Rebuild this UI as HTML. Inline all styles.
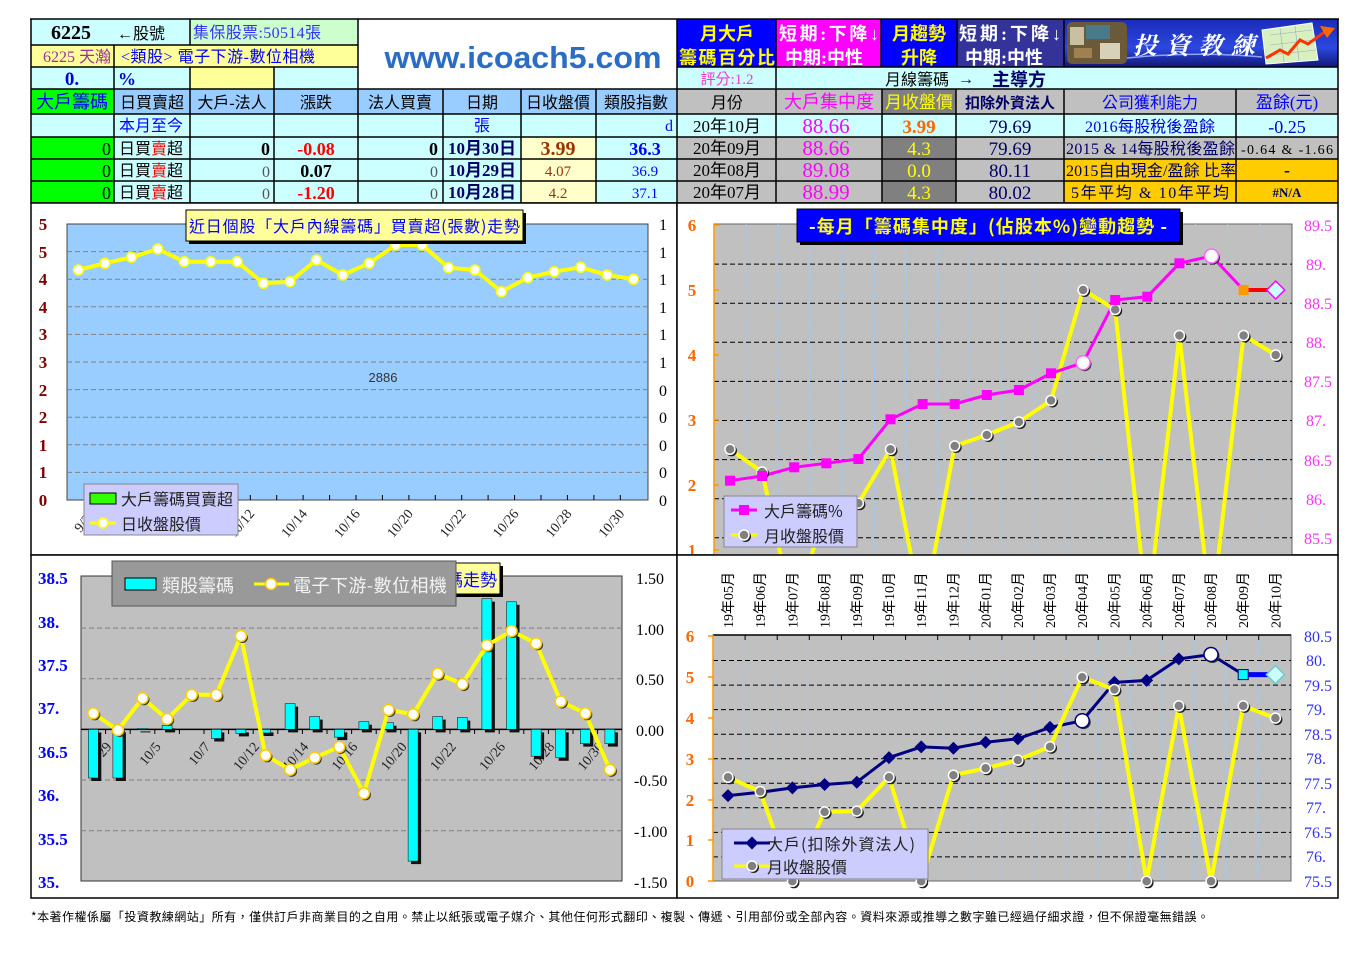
<!DOCTYPE html>
<html><head><meta charset="utf-8">
<style>
html,body{margin:0;padding:0;background:#fff;width:1366px;height:967px;overflow:hidden;}
svg{display:block;}
text{font-family:"Liberation Serif","Noto Sans CJK TC",serif;}
.ss{font-family:"Liberation Sans","Noto Sans CJK TC",sans-serif;}
.cj{font-family:"Noto Sans CJK TC",sans-serif;}
</style></head><body>
<svg width="1366" height="967" viewBox="0 0 1366 967" xmlns="http://www.w3.org/2000/svg">
<defs>
<linearGradient id="lgv" x1="0" y1="0" x2="0" y2="1"><stop offset="0" stop-color="#1a2ab8"/><stop offset="0.6" stop-color="#2c48e0"/><stop offset="1" stop-color="#101878"/></linearGradient>
<clipPath id="c2"><rect x="678" y="204" width="659" height="351"/></clipPath>
<g id="gm"><circle cx="1.5" cy="1.5" r="5.5" fill="#222"/><circle r="5" fill="#808080" stroke="#fff" stroke-width="1.5"/></g>
<g id="wm"><circle r="5" fill="#fff" stroke="#ffff00" stroke-width="1.5"/></g>
<g id="wm3"><circle cx="1.5" cy="1.5" r="5.5" fill="#333"/><circle r="5.5" fill="#fff" stroke="#ffcc00" stroke-width="1.5"/></g>
<rect id="ms" x="-5" y="-5" width="10" height="10" fill="#ff00ff"/>
<path id="nd" d="M0,-6.5 L6.5,0 L0,6.5 L-6.5,0Z" fill="#000080"/>
</defs>

<!-- ===== TOP LEFT TABLE FILLS ===== -->
<rect x="31" y="19" width="159" height="26" fill="#ccffff"/>
<rect x="190" y="19" width="168" height="26" fill="#ccffcc"/>
<rect x="31" y="45" width="327" height="22" fill="#ffff99"/>
<rect x="31" y="67" width="243" height="22" fill="#ccffff"/>
<rect x="190" y="67" width="84" height="22" fill="#ffff99"/>
<rect x="274" y="67" width="84" height="22" fill="#ccffff"/>
<rect x="358" y="19" width="319" height="70" fill="#ffffff"/>
<rect x="31" y="89" width="83" height="25" fill="#00ff00"/>
<rect x="114" y="89" width="563" height="25" fill="#99ccff"/>
<rect x="31" y="114" width="646" height="23" fill="#ccffff"/>
<rect x="31" y="137" width="83" height="66" fill="#00ff00"/>
<rect x="114" y="137" width="407" height="66" fill="#ccffff"/>
<rect x="521" y="137" width="75" height="66" fill="#ffffcc"/>
<rect x="596" y="137" width="81" height="66" fill="#ccffff"/>

<!-- ===== TOP RIGHT FILLS ===== -->
<rect x="677" y="19" width="99" height="48" fill="#0000ff"/>
<rect x="776" y="19" width="105" height="48" fill="#ff00ff"/>
<rect x="881" y="19" width="76" height="48" fill="#0000ff"/>
<rect x="957" y="19" width="107" height="48" fill="#333399"/>
<rect x="677" y="67" width="661" height="22" fill="#ccffff"/>
<rect x="677" y="89" width="661" height="25" fill="#c0c0c0"/>
<rect x="882" y="89" width="74" height="25" fill="#808080"/>
<rect x="677" y="114" width="661" height="23" fill="#ccffff"/>
<rect x="677" y="137" width="661" height="66" fill="#c0c0c0"/>
<rect x="882" y="137" width="74" height="66" fill="#808080"/>
<rect x="1064" y="159" width="274" height="44" fill="#ffcc00"/>

<!-- logo -->
<rect x="1064" y="19" width="274" height="48" fill="url(#lgv)"/>
<rect x="1067" y="22" width="60" height="42" rx="5" fill="#6b5a3a"/>
<rect x="1070" y="27" width="14" height="18" fill="#c8c0a0"/>
<rect x="1086" y="25" width="24" height="14" fill="#4a7a8a"/>
<rect x="1100" y="43" width="20" height="16" fill="#d8d0b8"/>
<rect x="1074" y="48" width="18" height="10" fill="#a08050"/>
<path d="M1127,58 Q1195,51 1262,57" stroke="#8fa0ff" stroke-width="1.5" fill="none"/>
<text x="1133" y="54" font-size="24" font-weight="bold" font-style="italic" fill="#ffffff" style="font-family:'Noto Serif CJK SC','Noto Sans CJK TC',serif" textLength="122" lengthAdjust="spacing">投資教練</text>
<polygon points="1262,30 1312,23 1318,60 1266,64" fill="#d8f0c0" stroke="#ffffff" stroke-width="1"/>
<path d="M1270,35 L1312,30 M1270,45 L1314,40 M1270,55 L1316,50 M1280,28 L1284,62 M1295,26 L1299,61" stroke="#9ab" stroke-width="0.6"/>
<polyline points="1266,58 1280,50 1288,54 1300,40 1308,44 1326,31" fill="none" stroke="#ff3300" stroke-width="3"/>
<polygon points="1320,26 1335,28 1327,38" fill="#ff6600"/>

<!-- ===== TABLE GRID LINES ===== -->
<g stroke="#000" stroke-width="1.5">
<line x1="30" y1="19" x2="1339" y2="19"/>
<line x1="31" y1="45" x2="358" y2="45"/>
<line x1="31" y1="67" x2="358" y2="67"/>
<line x1="677" y1="67" x2="1338" y2="67"/>
<line x1="31" y1="89" x2="1338" y2="89"/>
<line x1="31" y1="114" x2="1338" y2="114"/>
<line x1="31" y1="137" x2="1338" y2="137"/>
<line x1="31" y1="159" x2="1338" y2="159"/>
<line x1="31" y1="181" x2="1338" y2="181"/>
<line x1="31" y1="203" x2="1338" y2="203"/>
<line x1="31" y1="19" x2="31" y2="203"/>
<line x1="114" y1="45" x2="114" y2="203"/>
<line x1="190" y1="19" x2="190" y2="45"/>
<line x1="190" y1="67" x2="190" y2="203"/>
<line x1="274" y1="67" x2="274" y2="203"/>
<line x1="358" y1="19" x2="358" y2="203"/>
<line x1="443" y1="89" x2="443" y2="203"/>
<line x1="521" y1="89" x2="521" y2="203"/>
<line x1="596" y1="89" x2="596" y2="203"/>
<line x1="677" y1="19" x2="677" y2="203"/>
<line x1="776" y1="19" x2="776" y2="203"/>
<line x1="881" y1="19" x2="881" y2="67"/>
<line x1="882" y1="89" x2="882" y2="203"/>
<line x1="957" y1="19" x2="957" y2="67"/>
<line x1="956" y1="89" x2="956" y2="203"/>
<line x1="1064" y1="19" x2="1064" y2="67"/>
<line x1="1064" y1="89" x2="1064" y2="203"/>
<line x1="1236" y1="89" x2="1236" y2="203"/>
<line x1="1338" y1="19" x2="1338" y2="203"/>
</g>

<!-- ===== TOP LEFT TEXT ===== -->
<text x="71" y="39" font-size="20" font-weight="bold" text-anchor="middle" fill="#000">6225</text>
<text x="117" y="39" font-size="16" fill="#000">←股號</text>
<text x="193" y="38" font-size="16" fill="#3333ff" textLength="128" lengthAdjust="spacing">集保股票:50514張</text>
<text x="43" y="62" font-size="16" fill="#993399" textLength="68" lengthAdjust="spacing">6225 天瀚</text>
<text x="121" y="62" font-size="16" fill="#0000ff" textLength="194" lengthAdjust="spacing">&lt;類股&gt; 電子下游-數位相機</text>
<text x="72" y="85" font-size="19" font-weight="bold" text-anchor="middle" fill="#0000cc">0.</text>
<text x="118" y="85" font-size="18" font-weight="bold" fill="#0000cc">%</text>
<text x="523" y="68" font-size="31" font-weight="bold" text-anchor="middle" fill="#2b6cc4" style="font-family:'Liberation Sans',sans-serif" textLength="277" lengthAdjust="spacingAndGlyphs">www.icoach5.com</text>

<g font-size="16" text-anchor="middle" fill="#000">
<text x="72" y="108" font-size="18" fill="#0000ff">大戶籌碼</text>
<text x="152" y="108">日買賣超</text>
<text x="232" y="108">大戶-法人</text>
<text x="316" y="108">漲跌</text>
<text x="400" y="108">法人買賣</text>
<text x="482" y="108">日期</text>
<text x="558" y="108">日收盤價</text>
<text x="636" y="108">類股指數</text>
</g>
<text x="119" y="131" font-size="16" fill="#0000ff">本月至今</text>
<text x="482" y="131" font-size="16" fill="#0000ff" text-anchor="middle">張</text>
<text x="673" y="131" font-size="16" fill="#0000ff" text-anchor="end">d</text>

<!-- rows -->
<g font-size="18" text-anchor="end" fill="#000">
<text x="111" y="155">0</text><text x="111" y="177">0</text><text x="111" y="199">0</text>
<text x="270" y="155" font-weight="bold">0</text><text x="270" y="177" fill="#555" font-size="16">0</text><text x="270" y="199" fill="#555" font-size="16">0</text>
<text x="438" y="155" font-weight="bold">0</text><text x="438" y="177" fill="#555" font-size="16">0</text><text x="438" y="199" fill="#555" font-size="16">0</text>
</g>
<g font-size="16" fill="#000">
<text x="119" y="154">日買<tspan fill="#ff0000">賣</tspan>超</text>
<text x="119" y="176">日買<tspan fill="#ff0000">賣</tspan>超</text>
<text x="119" y="198">日買<tspan fill="#ff0000">賣</tspan>超</text>
</g>
<g text-anchor="middle" font-weight="bold" font-size="18">
<text x="316" y="155" fill="#ff0000">-0.08</text>
<text x="316" y="177" fill="#000">0.07</text>
<text x="316" y="199" fill="#ff0000">-1.20</text>
</g>
<g text-anchor="middle" font-weight="bold" font-size="17" fill="#000066">
<text x="482" y="154">10月30日</text>
<text x="482" y="176">10月29日</text>
<text x="482" y="198">10月28日</text>
</g>
<text x="558" y="155" font-size="20" font-weight="bold" fill="#993300" text-anchor="middle">3.99</text>
<text x="558" y="176" font-size="15" fill="#993300" text-anchor="middle">4.07</text>
<text x="558" y="198" font-size="15" fill="#993300" text-anchor="middle">4.2</text>
<text x="645" y="155" font-size="18" font-weight="bold" fill="#0000ff" text-anchor="middle">36.3</text>
<text x="645" y="176" font-size="15" fill="#0000ff" text-anchor="middle">36.9</text>
<text x="645" y="198" font-size="15" fill="#0000ff" text-anchor="middle">37.1</text>

<!-- ===== TOP RIGHT TEXT ===== -->
<g font-size="18" font-weight="bold" text-anchor="middle">
<text x="727" y="40" fill="#ffff00">月大戶</text>
<text x="727" y="64" fill="#ffff00" textLength="96" lengthAdjust="spacing">籌碼百分比</text>
<text x="829" y="40" fill="#fff" textLength="100" lengthAdjust="spacing">短期:下降↓</text>
<text x="824" y="64" fill="#fff">中期:中性</text>
<text x="919" y="40" fill="#ffff00">月趨勢</text>
<text x="919" y="64" fill="#ffff00">升降</text>
<text x="1010" y="40" fill="#fff" textLength="102" lengthAdjust="spacing">短期:下降↓</text>
<text x="1004" y="64" fill="#fff">中期:中性</text>
</g>
<text x="727" y="84" font-size="15" fill="#ff33cc" text-anchor="middle">評分:1.2</text>
<text x="885" y="85" font-size="16" fill="#000">月線籌碼</text>
<text x="958" y="84" font-size="16" font-weight="bold" fill="#000066">→</text>
<text x="992" y="86" font-size="18" font-weight="bold" fill="#000066">主導方</text>

<g text-anchor="middle" font-size="16">
<text x="727" y="108" fill="#000">月份</text>
<text x="829" y="108" fill="#ff00ff" font-size="18">大戶集中度</text>
<text x="919" y="108" fill="#ffff00" font-size="17">月收盤價</text>
<text x="1010" y="108" fill="#000066" font-size="15" font-weight="bold">扣除外資法人</text>
<text x="1150" y="108" fill="#0000ff">公司獲利能力</text>
<text x="1287" y="108" fill="#0000ff" font-size="17">盈餘(元)</text>
</g>
<g text-anchor="middle">
<text x="727" y="132" font-size="17" fill="#000">20年10月</text>
<text x="727" y="154" font-size="17" fill="#000">20年09月</text>
<text x="727" y="176" font-size="17" fill="#000">20年08月</text>
<text x="727" y="198" font-size="17" fill="#000">20年07月</text>
<g font-size="21" fill="#ff00ff">
<text x="826" y="133">88.66</text><text x="826" y="155">88.66</text><text x="826" y="177">89.08</text><text x="826" y="199">88.99</text>
</g>
<text x="919" y="133" font-size="19" font-weight="bold" fill="#ff6600">3.99</text>
<g font-size="19" fill="#ffff00">
<text x="919" y="155">4.3</text><text x="919" y="177">0.0</text><text x="919" y="199">4.3</text>
</g>
<g font-size="19" fill="#000066">
<text x="1010" y="133">79.69</text><text x="1010" y="155">79.69</text><text x="1010" y="177">80.11</text><text x="1010" y="199">80.02</text>
</g>
<text x="1150" y="132" font-size="16" fill="#0000cc" textLength="130" lengthAdjust="spacing">2016每股稅後盈餘</text>
<text x="1287" y="133" font-size="18" fill="#0000cc">-0.25</text>
<text x="1287" y="154" font-size="14" fill="#000" textLength="92" lengthAdjust="spacing">-0.64 &amp; -1.66</text>
<text x="1287" y="176" font-size="18" font-weight="bold" fill="#000066">-</text>
<text x="1287" y="197" font-size="13" font-weight="bold" fill="#000066">#N/A</text>
</g>
<text x="1066" y="154" font-size="16" fill="#000066" textLength="169" lengthAdjust="spacing">2015 &amp; 14每股稅後盈餘</text>
<text x="1066" y="176" font-size="16" fill="#000066" textLength="170" lengthAdjust="spacing">2015自由現金/盈餘 比率</text>
<text x="1071" y="198" font-size="16" fill="#000066" textLength="158" lengthAdjust="spacing">5年平均 &amp; 10年平均</text>

<!-- ===== CHART 1 ===== -->
<rect x="31" y="203" width="646" height="352" fill="#fff" stroke="#000" stroke-width="1.5"/>
<rect x="67" y="224" width="581" height="276" fill="#99ccff" stroke="#444" stroke-width="1"/>
<g stroke="#808080" stroke-width="1" stroke-dasharray="5,3">
<line x1="67" y1="251.6" x2="648" y2="251.6"/><line x1="67" y1="279.2" x2="648" y2="279.2"/>
<line x1="67" y1="306.8" x2="648" y2="306.8"/><line x1="67" y1="334.4" x2="648" y2="334.4"/>
<line x1="67" y1="362" x2="648" y2="362"/><line x1="67" y1="389.6" x2="648" y2="389.6"/>
<line x1="67" y1="417.2" x2="648" y2="417.2"/><line x1="67" y1="444.8" x2="648" y2="444.8"/>
<line x1="67" y1="472.4" x2="648" y2="472.4"/>
</g>
<g stroke="#000" stroke-width="1">
<line x1="91.7" y1="495" x2="91.7" y2="500"/><line x1="118.1" y1="495" x2="118.1" y2="500"/><line x1="144.6" y1="495" x2="144.6" y2="500"/><line x1="171" y1="495" x2="171" y2="500"/><line x1="197.4" y1="495" x2="197.4" y2="500"/><line x1="223.9" y1="495" x2="223.9" y2="500"/><line x1="250.3" y1="495" x2="250.3" y2="500"/><line x1="276.7" y1="495" x2="276.7" y2="500"/><line x1="303.1" y1="495" x2="303.1" y2="500"/><line x1="329.6" y1="495" x2="329.6" y2="500"/><line x1="356" y1="495" x2="356" y2="500"/><line x1="382.4" y1="495" x2="382.4" y2="500"/><line x1="408.9" y1="495" x2="408.9" y2="500"/><line x1="435.3" y1="495" x2="435.3" y2="500"/><line x1="461.7" y1="495" x2="461.7" y2="500"/><line x1="488.1" y1="495" x2="488.1" y2="500"/><line x1="514.6" y1="495" x2="514.6" y2="500"/><line x1="541" y1="495" x2="541" y2="500"/><line x1="567.4" y1="495" x2="567.4" y2="500"/><line x1="593.9" y1="495" x2="593.9" y2="500"/><line x1="620.3" y1="495" x2="620.3" y2="500"/>
</g>
<g font-size="17" font-weight="bold" fill="#800000" text-anchor="middle">
<text x="43" y="230">5</text><text x="43" y="258">5</text><text x="43" y="285">4</text><text x="43" y="313">4</text><text x="43" y="340">3</text><text x="43" y="368">3</text><text x="43" y="396">2</text><text x="43" y="423">2</text><text x="43" y="451">1</text><text x="43" y="478">1</text><text x="43" y="506">0</text>
</g>
<g font-size="16" fill="#000" text-anchor="middle">
<text x="663" y="230">1</text><text x="663" y="258">1</text><text x="663" y="285">1</text><text x="663" y="313">1</text><text x="663" y="340">1</text><text x="663" y="368">1</text><text x="663" y="396">0</text><text x="663" y="423">0</text><text x="663" y="451">0</text><text x="663" y="478">0</text><text x="663" y="506">0</text>
</g>
<text x="383" y="382" font-size="13" fill="#333" text-anchor="middle" class="ss">2886</text>
<g font-size="14" fill="#222" text-anchor="end" class="ss">
<text transform="translate(96.5,514) rotate(-50)">9/29</text>
<text transform="translate(149.4,514) rotate(-50)">10/5</text>
<text transform="translate(202.2,514) rotate(-50)">10/7</text>
<text transform="translate(255.1,514) rotate(-50)">10/12</text>
<text transform="translate(307.9,514) rotate(-50)">10/14</text>
<text transform="translate(360.8,514) rotate(-50)">10/16</text>
<text transform="translate(413.7,514) rotate(-50)">10/20</text>
<text transform="translate(466.5,514) rotate(-50)">10/22</text>
<text transform="translate(519.4,514) rotate(-50)">10/26</text>
<text transform="translate(572.2,514) rotate(-50)">10/28</text>
<text transform="translate(625.1,514) rotate(-50)">10/30</text>
</g>
<polyline points="78.5,270 104.9,263.3 131.4,257.3 157.8,249 184.2,261.7 210.7,261.7 237.1,261.7 263.5,283.3 289.9,281.7 316.4,260 342.8,275 369.2,263.3 395.7,245 422.1,245 448.5,267.7 474.9,270 501.4,291.7 527.8,277.7 554.2,271.7 580.7,267.3 607.1,275 633.5,279.3" fill="none" stroke="#ffff00" stroke-width="4" stroke-linejoin="round"/>
<use href="#wm" x="78.5" y="270"/><use href="#wm" x="104.9" y="263.3"/><use href="#wm" x="131.4" y="257.3"/><use href="#wm" x="157.8" y="249"/><use href="#wm" x="184.2" y="261.7"/><use href="#wm" x="210.7" y="261.7"/><use href="#wm" x="237.1" y="261.7"/><use href="#wm" x="263.5" y="283.3"/><use href="#wm" x="289.9" y="281.7"/><use href="#wm" x="316.4" y="260"/><use href="#wm" x="342.8" y="275"/><use href="#wm" x="369.2" y="263.3"/><use href="#wm" x="395.7" y="245"/><use href="#wm" x="422.1" y="245"/><use href="#wm" x="448.5" y="267.7"/><use href="#wm" x="474.9" y="270"/><use href="#wm" x="501.4" y="291.7"/><use href="#wm" x="527.8" y="277.7"/><use href="#wm" x="554.2" y="271.7"/><use href="#wm" x="580.7" y="267.3"/><use href="#wm" x="607.1" y="275"/><use href="#wm" x="633.5" y="279.3"/>
<rect x="189" y="213" width="337" height="31" fill="#000"/>
<rect x="186" y="210" width="337" height="31" fill="#ffff99" stroke="#000" stroke-width="1"/>
<text x="189" y="232" font-size="16" fill="#0000ff" class="cj" textLength="331" lengthAdjust="spacing">近日個股「大戶內線籌碼」買賣超(張數)走勢</text>
<rect x="84" y="484" width="154" height="51" fill="#ccccff" stroke="#888" stroke-width="1"/>
<rect x="90" y="493" width="26" height="11" fill="#33ff00" stroke="#000" stroke-width="1"/>
<text x="121" y="505" font-size="16" fill="#222" class="cj">大戶籌碼買賣超</text>
<line x1="90" y1="523" x2="116" y2="523" stroke="#ffff00" stroke-width="3"/>
<use href="#wm" x="103" y="523"/>
<text x="121" y="530" font-size="16" fill="#222" class="cj">日收盤股價</text>

<!-- ===== CHART 2 ===== -->
<rect x="677" y="203" width="661" height="352" fill="#fff" stroke="#000" stroke-width="1.5"/>
<g clip-path="url(#c2)">
<rect x="714" y="224" width="578" height="391" fill="#c0c0c0" stroke="#666" stroke-width="1"/>
<g stroke="#99ccff" stroke-width="1" stroke-dasharray="3,3">
<line x1="746.1" y1="224" x2="746.1" y2="615"/><line x1="778.2" y1="224" x2="778.2" y2="615"/><line x1="810.3" y1="224" x2="810.3" y2="615"/><line x1="842.4" y1="224" x2="842.4" y2="615"/><line x1="874.5" y1="224" x2="874.5" y2="615"/><line x1="906.6" y1="224" x2="906.6" y2="615"/><line x1="938.7" y1="224" x2="938.7" y2="615"/><line x1="970.8" y1="224" x2="970.8" y2="615"/><line x1="1002.9" y1="224" x2="1002.9" y2="615"/><line x1="1035" y1="224" x2="1035" y2="615"/><line x1="1067.1" y1="224" x2="1067.1" y2="615"/><line x1="1099.2" y1="224" x2="1099.2" y2="615"/><line x1="1131.3" y1="224" x2="1131.3" y2="615"/><line x1="1163.4" y1="224" x2="1163.4" y2="615"/><line x1="1195.5" y1="224" x2="1195.5" y2="615"/><line x1="1227.6" y1="224" x2="1227.6" y2="615"/><line x1="1259.7" y1="224" x2="1259.7" y2="615"/>
</g>
<g stroke="#000" stroke-width="1" stroke-dasharray="5,3">
<line x1="714" y1="264.1" x2="1292" y2="264.1"/><line x1="714" y1="303.2" x2="1292" y2="303.2"/><line x1="714" y1="342.3" x2="1292" y2="342.3"/><line x1="714" y1="381.4" x2="1292" y2="381.4"/><line x1="714" y1="420.5" x2="1292" y2="420.5"/><line x1="714" y1="459.6" x2="1292" y2="459.6"/><line x1="714" y1="498.7" x2="1292" y2="498.7"/><line x1="714" y1="537.8" x2="1292" y2="537.8"/>
</g>
<line x1="714" y1="224" x2="714" y2="615" stroke="#ff9900" stroke-width="1.5"/>
<g stroke="#ff9900" stroke-width="1.5"><line x1="714" y1="225" x2="719" y2="225"/><line x1="714" y1="290" x2="719" y2="290"/><line x1="714" y1="355" x2="719" y2="355"/><line x1="714" y1="420" x2="719" y2="420"/><line x1="714" y1="485" x2="719" y2="485"/><line x1="714" y1="550" x2="719" y2="550"/></g>
<polyline points="730,449.3 762.1,472 794.2,615 826.3,504.5 858.4,503.2 890.5,449.3 922.6,615 954.7,446 986.8,435 1018.9,422 1051,400.5 1083.1,290 1115.2,309.5 1147.3,615 1179.4,335.5 1211.5,615 1243.6,335.5 1275.7,355" fill="none" stroke="#ffff00" stroke-width="4" stroke-linejoin="round"/>
<polyline points="730,480.7 762.1,476 794.2,467.3 826.3,463.3 858.4,459 890.5,419.3 922.6,404 954.7,404 986.8,395 1018.9,390 1051,373.3 1083.1,362.7 1115.2,300 1147.3,296.7 1179.4,263.3 1211.5,256 1243.6,290" fill="none" stroke="#ff00ff" stroke-width="3"/>
<line x1="1243.6" y1="290" x2="1275.7" y2="290" stroke="#ff0000" stroke-width="4"/>
<use href="#gm" x="730" y="449.3"/><use href="#gm" x="762.1" y="472"/><use href="#gm" x="826.3" y="504.5"/><use href="#gm" x="858.4" y="503.2"/><use href="#gm" x="890.5" y="449.3"/><use href="#gm" x="954.7" y="446"/><use href="#gm" x="986.8" y="435"/><use href="#gm" x="1018.9" y="422"/><use href="#gm" x="1051" y="400.5"/><use href="#gm" x="1083.1" y="290"/><use href="#gm" x="1115.2" y="309.5"/><use href="#gm" x="1179.4" y="335.5"/><use href="#gm" x="1243.6" y="335.5"/><use href="#gm" x="1275.7" y="355"/>
<use href="#ms" x="730" y="480.7"/><use href="#ms" x="762.1" y="476"/><use href="#ms" x="794.2" y="467.3"/><use href="#ms" x="826.3" y="463.3"/><use href="#ms" x="858.4" y="459"/><use href="#ms" x="890.5" y="419.3"/><use href="#ms" x="922.6" y="404"/><use href="#ms" x="954.7" y="404"/><use href="#ms" x="986.8" y="395"/><use href="#ms" x="1018.9" y="390"/><use href="#ms" x="1051" y="373.3"/><use href="#ms" x="1115.2" y="300"/><use href="#ms" x="1147.3" y="296.7"/><use href="#ms" x="1179.4" y="263.3"/>
<circle cx="1084.5" cy="364.2" r="7" fill="#333"/><circle cx="1083.1" cy="362.7" r="7" fill="#fff" stroke="#ff66ff" stroke-width="1.5"/>
<circle cx="1213" cy="257.5" r="7" fill="#333"/><circle cx="1211.5" cy="256" r="7" fill="#fff" stroke="#ff66ff" stroke-width="1.5"/>
<rect x="1238.6" y="285" width="10" height="10" fill="#ff9900"/>
<path d="M1275.7,281 L1284.7,290 L1275.7,299 L1266.7,290Z" fill="#ccffff" stroke="#ff00ff" stroke-width="1.5"/>
</g>
<g font-size="17" font-weight="bold" fill="#ff6600" text-anchor="middle">
<text x="692" y="231">6</text><text x="692" y="296">5</text><text x="692" y="361">4</text><text x="692" y="426">3</text><text x="692" y="491">2</text><text x="692" y="556">1</text>
</g>
<g font-size="16" fill="#ff33ff" text-anchor="middle">
<text x="1318" y="231">89.5</text><text x="1316" y="270">89.</text><text x="1318" y="309">88.5</text><text x="1316" y="348">88.</text><text x="1318" y="387">87.5</text><text x="1316" y="426">87.</text><text x="1318" y="466">86.5</text><text x="1316" y="505">86.</text><text x="1318" y="544">85.5</text>
</g>
<rect x="800" y="212" width="383" height="33" fill="#000"/>
<rect x="797" y="209" width="383" height="33" fill="#0000ff" stroke="#000" stroke-width="1"/>
<text x="988" y="233" font-size="18" font-weight="bold" text-anchor="middle" fill="#ffff00" class="cj" textLength="358" lengthAdjust="spacing"><tspan fill="#fff">-</tspan>每月「籌碼集中度」(佔股本%)變動趨勢 <tspan fill="#fff">-</tspan></text>
<rect x="724" y="496" width="133" height="51" fill="#ccccff" stroke="#888" stroke-width="1"/>
<line x1="731" y1="510" x2="757" y2="510" stroke="#ff00ff" stroke-width="3"/>
<use href="#ms" x="744" y="510"/>
<text x="764" y="517" font-size="16" fill="#222" class="cj">大戶籌碼%</text>
<line x1="731" y1="535" x2="757" y2="535" stroke="#ffff00" stroke-width="3"/>
<use href="#gm" x="744" y="535"/>
<text x="764" y="542" font-size="16" fill="#222" class="cj">月收盤股價</text>

<!-- ===== CHART 3 ===== -->
<rect x="31" y="555" width="646" height="343" fill="#fff" stroke="#000" stroke-width="1.5"/>
<rect x="81" y="576" width="541" height="305" fill="#c0c0c0" stroke="#333" stroke-width="1"/>
<g stroke="#808080" stroke-width="1" stroke-dasharray="5,3">
<line x1="81" y1="628.1" x2="622" y2="628.1"/><line x1="81" y1="678.8" x2="622" y2="678.8"/><line x1="81" y1="780" x2="622" y2="780"/><line x1="81" y1="830.7" x2="622" y2="830.7"/>
</g>
<line x1="81" y1="729.4" x2="622" y2="729.4" stroke="#000" stroke-width="1.5"/>
<g stroke="#000" stroke-width="1"><line x1="105.6" y1="729" x2="105.6" y2="734"/><line x1="130.2" y1="729" x2="130.2" y2="734"/><line x1="154.8" y1="729" x2="154.8" y2="734"/><line x1="179.4" y1="729" x2="179.4" y2="734"/><line x1="204" y1="729" x2="204" y2="734"/><line x1="228.6" y1="729" x2="228.6" y2="734"/><line x1="253.2" y1="729" x2="253.2" y2="734"/><line x1="277.8" y1="729" x2="277.8" y2="734"/><line x1="302.4" y1="729" x2="302.4" y2="734"/><line x1="327" y1="729" x2="327" y2="734"/><line x1="351.6" y1="729" x2="351.6" y2="734"/><line x1="376.2" y1="729" x2="376.2" y2="734"/><line x1="400.8" y1="729" x2="400.8" y2="734"/><line x1="425.4" y1="729" x2="425.4" y2="734"/><line x1="450" y1="729" x2="450" y2="734"/><line x1="474.6" y1="729" x2="474.6" y2="734"/><line x1="499.2" y1="729" x2="499.2" y2="734"/><line x1="523.8" y1="729" x2="523.8" y2="734"/><line x1="548.4" y1="729" x2="548.4" y2="734"/><line x1="573" y1="729" x2="573" y2="734"/><line x1="597.6" y1="729" x2="597.6" y2="734"/></g>
<g font-size="17" font-weight="bold" fill="#0000ff">
<text x="38" y="584">38.5</text><text x="38" y="628">38.</text><text x="38" y="671">37.5</text><text x="38" y="714">37.</text><text x="38" y="758">36.5</text><text x="38" y="801">36.</text><text x="38" y="845">35.5</text><text x="38" y="888">35.</text>
</g>
<g font-size="16" fill="#000">
<text x="636" y="584">1.50</text><text x="636" y="635">1.00</text><text x="636" y="685">0.50</text><text x="636" y="736">0.00</text><text x="634" y="786">-0.50</text><text x="634" y="837">-1.00</text><text x="634" y="888">-1.50</text>
</g>
<g font-size="14" fill="#222" text-anchor="end" class="ss">
<text transform="translate(112.3,747) rotate(-50)">9/29</text>
<text transform="translate(161.5,747) rotate(-50)">10/5</text>
<text transform="translate(210.7,747) rotate(-50)">10/7</text>
<text transform="translate(259.9,747) rotate(-50)">10/12</text>
<text transform="translate(309.1,747) rotate(-50)">10/14</text>
<text transform="translate(358.3,747) rotate(-50)">10/16</text>
<text transform="translate(407.5,747) rotate(-50)">10/20</text>
<text transform="translate(456.7,747) rotate(-50)">10/22</text>
<text transform="translate(505.9,747) rotate(-50)">10/26</text>
<text transform="translate(555.1,747) rotate(-50)">10/28</text>
<text transform="translate(604.3,747) rotate(-50)">10/30</text>
</g>
<!-- bar shadows -->
<g fill="#111">
<rect x="91.3" y="732.4" width="10" height="48.6"/><rect x="115.9" y="732.4" width="10" height="48.6"/>
<rect x="140.5" y="731.4" width="10" height="1"/><rect x="165.1" y="728.4" width="10" height="4"/>
<rect x="214.3" y="732.4" width="10" height="9.1"/><rect x="238.9" y="732.4" width="10" height="4"/><rect x="263.5" y="732.4" width="10" height="3.6"/>
<rect x="288.1" y="706.6" width="10" height="25.8"/><rect x="312.7" y="719.6" width="10" height="12.8"/><rect x="337.3" y="732.4" width="10" height="7.7"/>
<rect x="361.9" y="724.7" width="10" height="7.7"/><rect x="386.5" y="725.7" width="10" height="6.7"/><rect x="411.1" y="732.4" width="10" height="131.7"/>
<rect x="435.7" y="719.6" width="10" height="12.8"/><rect x="460.3" y="720.6" width="10" height="11.8"/><rect x="484.9" y="601.7" width="10" height="130.7"/>
<rect x="509.5" y="604.8" width="10" height="127.6"/><rect x="534.1" y="732.4" width="10" height="26.8"/><rect x="558.7" y="732.4" width="10" height="28.4"/>
<rect x="583.3" y="732.4" width="10" height="14.2"/><rect x="607.9" y="732.4" width="10" height="14.2"/>
</g>
<g fill="#00ffff" stroke="#000" stroke-width="0.5">
<rect x="88.3" y="729.4" width="10" height="48.6"/><rect x="112.9" y="729.4" width="10" height="48.6"/>
<rect x="137.5" y="728.4" width="10" height="1"/><rect x="162.1" y="725.4" width="10" height="4"/>
<rect x="211.3" y="729.4" width="10" height="9.1"/><rect x="235.9" y="729.4" width="10" height="4"/><rect x="260.5" y="729.4" width="10" height="3.6"/>
<rect x="285.1" y="703.6" width="10" height="25.8"/><rect x="309.7" y="716.6" width="10" height="12.8"/><rect x="334.3" y="729.4" width="10" height="7.7"/>
<rect x="358.9" y="721.7" width="10" height="7.7"/><rect x="383.5" y="722.7" width="10" height="6.7"/><rect x="408.1" y="729.4" width="10" height="131.7"/>
<rect x="432.7" y="716.6" width="10" height="12.8"/><rect x="457.3" y="717.6" width="10" height="11.8"/><rect x="481.9" y="598.7" width="10" height="130.7"/>
<rect x="506.5" y="601.8" width="10" height="127.6"/><rect x="531.1" y="729.4" width="10" height="26.8"/><rect x="555.7" y="729.4" width="10" height="28.4"/>
<rect x="580.3" y="729.4" width="10" height="14.2"/><rect x="604.9" y="729.4" width="10" height="14.2"/>
</g>
<polyline points="93.3,713.3 117.9,730.1 142.5,698.2 167.1,719 191.7,694.8 216.3,694.8 240.9,636 265.5,755.3 290.1,769.7 314.7,757.6 339.3,746.9 363.9,793.3 388.5,709.9 413.1,714.3 437.7,673.6 462.3,684 486.9,645.4 511.5,631 536.1,643.4 560.7,701.5 585.3,713.3 609.9,769.7" fill="none" stroke="#ffff00" stroke-width="4" stroke-linejoin="round"/>
<use href="#wm3" x="93.3" y="713.3"/><use href="#wm3" x="117.9" y="730.1"/><use href="#wm3" x="142.5" y="698.2"/><use href="#wm3" x="167.1" y="719"/><use href="#wm3" x="191.7" y="694.8"/><use href="#wm3" x="216.3" y="694.8"/><use href="#wm3" x="240.9" y="636"/><use href="#wm3" x="265.5" y="755.3"/><use href="#wm3" x="290.1" y="769.7"/><use href="#wm3" x="314.7" y="757.6"/><use href="#wm3" x="339.3" y="746.9"/><use href="#wm3" x="363.9" y="793.3"/><use href="#wm3" x="388.5" y="709.9"/><use href="#wm3" x="413.1" y="714.3"/><use href="#wm3" x="437.7" y="673.6"/><use href="#wm3" x="462.3" y="684"/><use href="#wm3" x="486.9" y="645.4"/><use href="#wm3" x="511.5" y="631"/><use href="#wm3" x="536.1" y="643.4"/><use href="#wm3" x="560.7" y="701.5"/><use href="#wm3" x="585.3" y="713.3"/><use href="#wm3" x="609.9" y="769.7"/>
<rect x="303" y="566" width="200" height="31" fill="#000"/>
<rect x="300" y="563" width="200" height="31" fill="#ffff99" stroke="#000" stroke-width="1"/>
<text x="497" y="586" font-size="17" fill="#0000ff" text-anchor="end" class="cj">類股籌碼走勢</text>
<rect x="112" y="561" width="344" height="45" fill="#999999" stroke="#555" stroke-width="1"/>
<rect x="125" y="578" width="31" height="12" fill="#00ffff" stroke="#000" stroke-width="1"/>
<text x="162" y="592" font-size="18" fill="#f2f2f2" class="cj">類股籌碼</text>
<line x1="254" y1="584" x2="289" y2="584" stroke="#ffff00" stroke-width="3"/>
<circle cx="271" cy="584" r="5.5" fill="#fff" stroke="#ffcc00" stroke-width="1.5"/>
<text x="293" y="592" font-size="18" fill="#f2f2f2" class="cj" textLength="154" lengthAdjust="spacing">電子下游-數位相機</text>

<!-- ===== CHART 4 ===== -->
<rect x="677" y="555" width="661" height="343" fill="#fff" stroke="#000" stroke-width="1.5"/>
<g font-size="14" fill="#000" class="ss">
<text transform="translate(733,628) rotate(-90)">19年05月</text>
<text transform="translate(765.2,628) rotate(-90)">19年06月</text>
<text transform="translate(797.4,628) rotate(-90)">19年07月</text>
<text transform="translate(829.6,628) rotate(-90)">19年08月</text>
<text transform="translate(861.8,628) rotate(-90)">19年09月</text>
<text transform="translate(894,628) rotate(-90)">19年10月</text>
<text transform="translate(926.2,628) rotate(-90)">19年11月</text>
<text transform="translate(958.4,628) rotate(-90)">19年12月</text>
<text transform="translate(990.6,628) rotate(-90)">20年01月</text>
<text transform="translate(1022.8,628) rotate(-90)">20年02月</text>
<text transform="translate(1055,628) rotate(-90)">20年03月</text>
<text transform="translate(1087.2,628) rotate(-90)">20年04月</text>
<text transform="translate(1119.4,628) rotate(-90)">20年05月</text>
<text transform="translate(1151.6,628) rotate(-90)">20年06月</text>
<text transform="translate(1183.8,628) rotate(-90)">20年07月</text>
<text transform="translate(1216,628) rotate(-90)">20年08月</text>
<text transform="translate(1248.2,628) rotate(-90)">20年09月</text>
<text transform="translate(1280.4,628) rotate(-90)">20年10月</text>
</g>
<rect x="713" y="635" width="578" height="246" fill="#c0c0c0" stroke="#666" stroke-width="1"/>
<g stroke="#99ccff" stroke-width="1" stroke-dasharray="3,3">
<line x1="745.1" y1="635" x2="745.1" y2="881"/><line x1="777.2" y1="635" x2="777.2" y2="881"/><line x1="809.3" y1="635" x2="809.3" y2="881"/><line x1="841.4" y1="635" x2="841.4" y2="881"/><line x1="873.5" y1="635" x2="873.5" y2="881"/><line x1="905.6" y1="635" x2="905.6" y2="881"/><line x1="937.7" y1="635" x2="937.7" y2="881"/><line x1="969.8" y1="635" x2="969.8" y2="881"/><line x1="1001.9" y1="635" x2="1001.9" y2="881"/><line x1="1034" y1="635" x2="1034" y2="881"/><line x1="1066.1" y1="635" x2="1066.1" y2="881"/><line x1="1098.2" y1="635" x2="1098.2" y2="881"/><line x1="1130.3" y1="635" x2="1130.3" y2="881"/><line x1="1162.4" y1="635" x2="1162.4" y2="881"/><line x1="1194.5" y1="635" x2="1194.5" y2="881"/><line x1="1226.6" y1="635" x2="1226.6" y2="881"/><line x1="1258.7" y1="635" x2="1258.7" y2="881"/>
</g>
<g stroke="#000" stroke-width="1" stroke-dasharray="5,3">
<line x1="713" y1="660.5" x2="1291" y2="660.5"/><line x1="713" y1="685.1" x2="1291" y2="685.1"/><line x1="713" y1="709.6" x2="1291" y2="709.6"/><line x1="713" y1="734.2" x2="1291" y2="734.2"/><line x1="713" y1="758.7" x2="1291" y2="758.7"/><line x1="713" y1="783.3" x2="1291" y2="783.3"/><line x1="713" y1="807.8" x2="1291" y2="807.8"/><line x1="713" y1="832.4" x2="1291" y2="832.4"/><line x1="713" y1="856.9" x2="1291" y2="856.9"/>
</g>
<line x1="713" y1="635" x2="1291" y2="635" stroke="#000" stroke-width="1.5"/>
<g stroke="#000" stroke-width="1"><line x1="745.1" y1="635" x2="745.1" y2="640"/><line x1="777.2" y1="635" x2="777.2" y2="640"/><line x1="809.3" y1="635" x2="809.3" y2="640"/><line x1="841.4" y1="635" x2="841.4" y2="640"/><line x1="873.5" y1="635" x2="873.5" y2="640"/><line x1="905.6" y1="635" x2="905.6" y2="640"/><line x1="937.7" y1="635" x2="937.7" y2="640"/><line x1="969.8" y1="635" x2="969.8" y2="640"/><line x1="1001.9" y1="635" x2="1001.9" y2="640"/><line x1="1034" y1="635" x2="1034" y2="640"/><line x1="1066.1" y1="635" x2="1066.1" y2="640"/><line x1="1098.2" y1="635" x2="1098.2" y2="640"/><line x1="1130.3" y1="635" x2="1130.3" y2="640"/><line x1="1162.4" y1="635" x2="1162.4" y2="640"/><line x1="1194.5" y1="635" x2="1194.5" y2="640"/><line x1="1226.6" y1="635" x2="1226.6" y2="640"/><line x1="1258.7" y1="635" x2="1258.7" y2="640"/></g>
<line x1="713" y1="635" x2="713" y2="881" stroke="#ff9900" stroke-width="1.5"/>
<g stroke="#ff9900" stroke-width="1.5"><line x1="708" y1="636" x2="713" y2="636"/><line x1="708" y1="677" x2="713" y2="677"/><line x1="708" y1="718" x2="713" y2="718"/><line x1="708" y1="759" x2="713" y2="759"/><line x1="708" y1="800" x2="713" y2="800"/><line x1="708" y1="840" x2="713" y2="840"/><line x1="708" y1="881" x2="713" y2="881"/></g>
<polyline points="728,795.6 760.2,792.3 792.4,787.9 824.6,784.5 856.8,782.2 889,757.6 921.2,746.9 953.4,748.2 985.6,742.2 1017.8,738.8 1050,727.4 1082.2,720.7 1114.4,682.4 1146.6,680.4 1178.8,658.9 1211,654.5 1243.2,674.6" fill="none" stroke="#000080" stroke-width="3"/>
<line x1="1243.2" y1="674.6" x2="1275.4" y2="674.6" stroke="#0000ff" stroke-width="5"/>
<polyline points="728,777.3 760.2,791.5 792.4,881.3 824.6,811.9 856.8,811.1 889,777.3 921.2,881.3 953.4,775.2 985.6,768.3 1017.8,760.1 1050,746.7 1082.2,677.3 1114.4,689.5 1146.6,881.3 1178.8,705.9 1211,881.3 1243.2,705.9 1275.4,718.1" fill="none" stroke="#ffff00" stroke-width="4" stroke-linejoin="round"/>
<use href="#nd" x="728" y="795.6"/><use href="#nd" x="760.2" y="792.3"/><use href="#nd" x="792.4" y="787.9"/><use href="#nd" x="824.6" y="784.5"/><use href="#nd" x="856.8" y="782.2"/><use href="#nd" x="889" y="757.6"/><use href="#nd" x="921.2" y="746.9"/><use href="#nd" x="953.4" y="748.2"/><use href="#nd" x="985.6" y="742.2"/><use href="#nd" x="1017.8" y="738.8"/><use href="#nd" x="1050" y="727.4"/><use href="#nd" x="1114.4" y="682.4"/><use href="#nd" x="1146.6" y="680.4"/><use href="#nd" x="1178.8" y="658.9"/>
<circle cx="1083.7" cy="722.2" r="7" fill="#333"/><circle cx="1082.2" cy="720.7" r="7" fill="#fff" stroke="#000080" stroke-width="1.5"/>
<circle cx="1212.5" cy="656" r="7" fill="#333"/><circle cx="1211" cy="654.5" r="7" fill="#fff" stroke="#000080" stroke-width="1.5"/>
<rect x="1238.2" y="669.6" width="10" height="10" fill="#00ffff" stroke="#000080" stroke-width="1"/>
<path d="M1275.4,665.6 L1284.4,674.6 L1275.4,683.6 L1266.4,674.6Z" fill="#ccffff" stroke="#66cccc" stroke-width="1.5"/>
<use href="#gm" x="728" y="777.3"/><use href="#gm" x="760.2" y="791.5"/><use href="#gm" x="792.4" y="881.3"/><use href="#gm" x="824.6" y="811.9"/><use href="#gm" x="856.8" y="811.1"/><use href="#gm" x="889" y="777.3"/><use href="#gm" x="921.2" y="881.3"/><use href="#gm" x="953.4" y="775.2"/><use href="#gm" x="985.6" y="768.3"/><use href="#gm" x="1017.8" y="760.1"/><use href="#gm" x="1050" y="746.7"/><use href="#gm" x="1082.2" y="677.3"/><use href="#gm" x="1114.4" y="689.5"/><use href="#gm" x="1146.6" y="881.3"/><use href="#gm" x="1178.8" y="705.9"/><use href="#gm" x="1211" y="881.3"/><use href="#gm" x="1243.2" y="705.9"/><use href="#gm" x="1275.4" y="718.1"/>
<g font-size="17" font-weight="bold" fill="#ff6600" text-anchor="middle">
<text x="690" y="642">6</text><text x="690" y="683">5</text><text x="690" y="724">4</text><text x="690" y="765">3</text><text x="690" y="806">2</text><text x="690" y="846">1</text><text x="690" y="887">0</text>
</g>
<g font-size="16" fill="#3333ff" text-anchor="middle">
<text x="1318" y="642">80.5</text><text x="1316" y="666">80.</text><text x="1318" y="691">79.5</text><text x="1316" y="715">79.</text><text x="1318" y="740">78.5</text><text x="1316" y="764">78.</text><text x="1318" y="789">77.5</text><text x="1316" y="813">77.</text><text x="1318" y="838">76.5</text><text x="1316" y="862">76.</text><text x="1318" y="887">75.5</text>
</g>
<rect x="722" y="829" width="206" height="50" fill="#ccccff" stroke="#888" stroke-width="1"/>
<line x1="734" y1="843" x2="770" y2="843" stroke="#000080" stroke-width="3"/>
<use href="#nd" x="752" y="843"/>
<text x="767" y="850" font-size="16" fill="#222" class="cj" textLength="148" lengthAdjust="spacing">大戶(扣除外資法人)</text>
<line x1="734" y1="866" x2="770" y2="866" stroke="#ffff00" stroke-width="3"/>
<use href="#gm" x="752" y="866"/>
<text x="767" y="873" font-size="16" fill="#222" class="cj">月收盤股價</text>

<!-- footer -->
<text x="31" y="921" font-size="12" fill="#000" class="cj" textLength="1178" lengthAdjust="spacing">*本著作權係屬「投資教練網站」所有，僅供訂戶非商業目的之自用。禁止以紙張或電子媒介、其他任何形式翻印、複製、傳遞、引用部份或全部內容。資料來源或推導之數字雖已經過仔細求證，但不保證毫無錯誤。</text>
</svg>
</body></html>
